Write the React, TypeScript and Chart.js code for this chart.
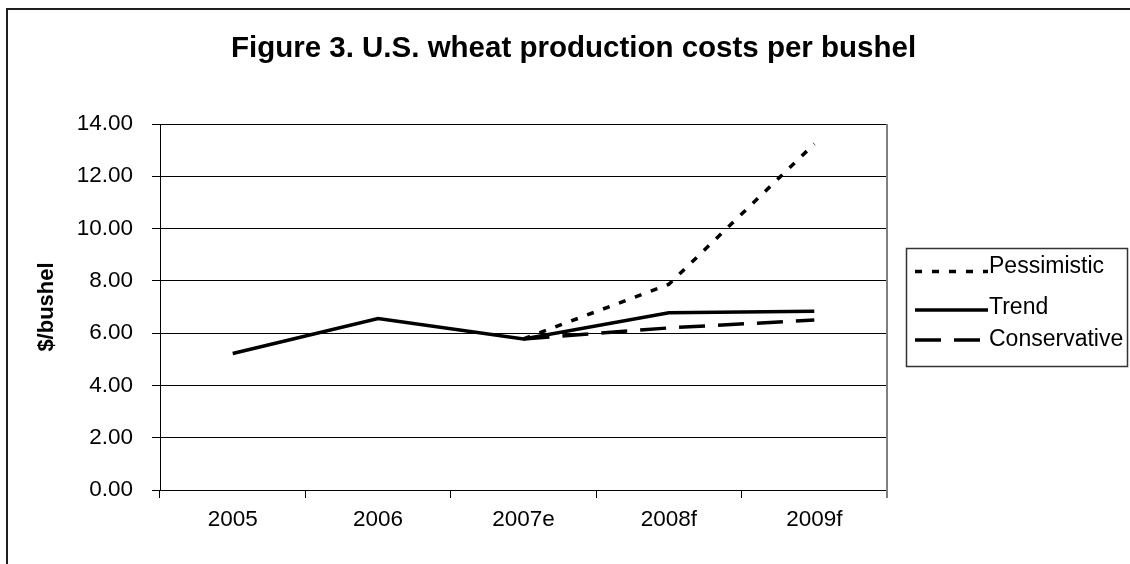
import React, { useEffect, useRef } from 'react';
import { Chart, registerables } from 'chart.js';

Chart.register(...registerables);

const categories = ['2005', '2006', '2007e', '2008f', '2009f'];
const pessimistic = [null, null, 5.78, 7.87, 13.24];
const trend = [5.22, 6.56, 5.78, 6.78, 6.84];
const conservative = [null, null, 5.78, 6.2, 6.5];
const yTicks = [0, 2, 4, 6, 8, 10, 12, 14];
const seriesLabels = ['Pessimistic', 'Trend', 'Conservative'];
const titleText = 'Figure 3. U.S. wheat production costs per bushel';
const yAxisTitle = '$/bushel';

const FONT = "'Liberation Sans', Arial, Helvetica, sans-serif";

const titlePlugin = {
  id: 'customTitle',
  afterDraw(chart: any) {
    const ctx = chart.ctx;
    ctx.save();
    ctx.font = `bold 29.5px ${FONT}`;
    ctx.fillStyle = '#000';
    ctx.textAlign = 'center';
    ctx.textBaseline = 'alphabetic';
    ctx.fillText(titleText, 573.5, 57);
    ctx.restore();
  },
};

const frameRightPlugin = {
  id: 'frameRight',
  beforeDatasetsDraw(chart: any) {
    const { ctx, chartArea } = chart;
    ctx.save();
    ctx.strokeStyle = '#808080';
    ctx.lineWidth = 2;
    ctx.beginPath();
    ctx.moveTo(chartArea.right, chartArea.top);
    ctx.lineTo(chartArea.right, chartArea.bottom + 8);
    ctx.stroke();
    ctx.restore();
  },
};

const legendPlugin = {
  id: 'boxLegend',
  afterDraw(chart: any) {
    const ctx = chart.ctx;
    const boxX = 906;
    const boxY = 248;
    const boxW = 221;
    const boxH = 118;
    ctx.save();
    ctx.fillStyle = '#fff';
    ctx.fillRect(boxX, boxY, boxW, boxH);
    ctx.strokeStyle = '#333';
    ctx.lineWidth = 1.5;
    ctx.strokeRect(boxX + 0.5, boxY + 0.5, boxW, boxH);
    const lineYs = [271.5, 310, 340];
    const textYs = [267, 307.5, 339.5];
    chart.data.datasets.forEach((ds: any, i: number) => {
      ctx.strokeStyle = ds.borderColor;
      ctx.lineWidth = ds.borderWidth;
      ctx.setLineDash(ds.borderDash || []);
      ctx.beginPath();
      ctx.moveTo(915, lineYs[i]);
      ctx.lineTo(988, lineYs[i]);
      ctx.stroke();
      ctx.setLineDash([]);
      ctx.fillStyle = '#000';
      ctx.font = `23px ${FONT}`;
      ctx.textAlign = 'left';
      ctx.textBaseline = 'middle';
      ctx.fillText(ds.label, 989, textYs[i]);
    });
    ctx.restore();
  },
};

export default function App() {
  const canvasRef = useRef<HTMLCanvasElement | null>(null);

  useEffect(() => {
    document.body.style.margin = '0';
    const canvas = canvasRef.current;
    if (!canvas) return;
    const chart = new Chart(canvas, {
      type: 'line',
      data: {
        labels: categories,
        datasets: [
          {
            label: seriesLabels[0],
            data: pessimistic,
            borderColor: '#000',
            backgroundColor: '#000',
            borderWidth: 3.5,
            borderDash: [7, 10],
            pointRadius: 0,
            tension: 0,
            fill: false,
          },
          {
            label: seriesLabels[1],
            data: trend,
            borderColor: '#000',
            backgroundColor: '#000',
            borderWidth: 3.5,
            borderDash: [],
            pointRadius: 0,
            tension: 0,
            fill: false,
          },
          {
            label: seriesLabels[2],
            data: conservative,
            borderColor: '#000',
            backgroundColor: '#000',
            borderWidth: 3.5,
            borderDash: [26, 13],
            pointRadius: 0,
            tension: 0,
            fill: false,
          },
        ],
      },
      options: {
        animation: false,
        responsive: false,
        devicePixelRatio: 1,
        layout: { padding: { top: 124, right: 243, bottom: 0, left: 0 } },
        plugins: {
          legend: { display: false },
          title: { display: false },
          tooltip: { enabled: false },
        },
        scales: {
          x: {
            type: 'category',
            offset: true,
            grid: {
              display: true,
              offset: true,
              drawOnChartArea: false,
              drawTicks: true,
              tickLength: 8,
              color: '#000',
              lineWidth: 1,
            },
            border: { display: true, color: '#000', width: 1 },
            ticks: {
              color: '#000',
              font: { family: FONT, size: 22.5 },
              padding: 8,
              maxRotation: 0,
              autoSkip: false,
            },
            afterFit: (s: any) => {
              s.height = 74;
            },
          },
          y: {
            type: 'linear',
            min: 0,
            max: 14,
            grid: {
              display: true,
              color: '#000',
              lineWidth: 1,
              drawTicks: true,
              tickLength: 8,
            },
            border: { display: true, color: '#000', width: 1 },
            ticks: {
              color: '#000',
              font: { family: FONT, size: 22.5 },
              padding: 19,
              stepSize: 2,
              callback: (v: any) => Number(v).toFixed(2),
            },
            afterBuildTicks: (s: any) => {
              s.ticks = yTicks.map((v) => ({ value: v }));
            },
            title: {
              display: true,
              text: yAxisTitle,
              color: '#000',
              font: { family: FONT, size: 22, weight: 'bold' },
              padding: { top: 34, bottom: 0 },
            },
            afterFit: (s: any) => {
              s.width = 160;
            },
          },
        },
      },
      plugins: [frameRightPlugin, titlePlugin, legendPlugin],
    } as any);
    return () => chart.destroy();
  }, []);

  return (
    <div
      style={{
        position: 'fixed',
        left: 0,
        top: 0,
        width: 1130,
        height: 564,
        overflow: 'hidden',
        background: '#fff',
      }}
    >
      <div
        style={{
          position: 'absolute',
          left: 6,
          top: 8,
          width: 1200,
          height: 620,
          border: '2px solid #1e1e1e',
          boxSizing: 'border-box',
        }}
      />
      <canvas
        ref={canvasRef}
        width={1130}
        height={564}
        style={{ position: 'absolute', left: 0, top: 0, width: 1130, height: 564 }}
      />
    </div>
  );
}
